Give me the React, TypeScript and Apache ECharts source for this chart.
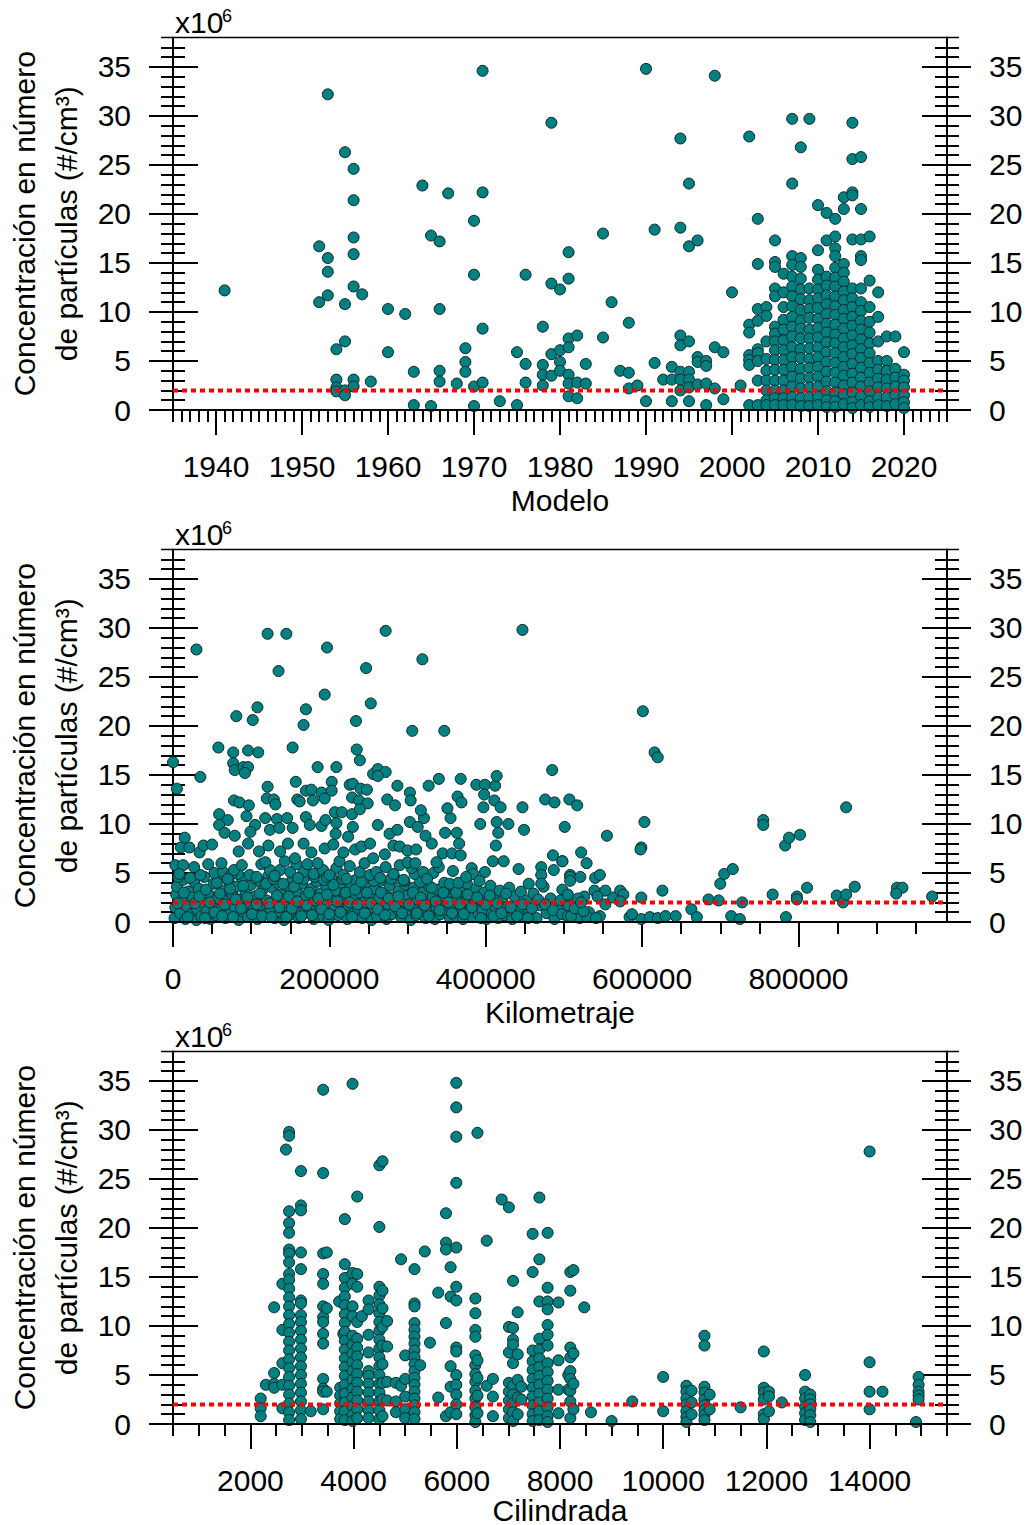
import React, { useEffect, useRef } from 'react';
import * as echarts from 'echarts';

// ---------- axis / tick labels ----------
const concTicks = [0, 5, 10, 15, 20, 25, 30, 35];
const modeloTicks = [1940, 1950, 1960, 1970, 1980, 1990, 2000, 2010, 2020];
const kmTicks = [0, 200000, 400000, 600000, 800000];
const cilTicks = [2000, 4000, 6000, 8000, 10000, 12000, 14000];
const yTitle = 'Concentración en número\nde partículas (#/cm³)';
const xTitles = ['Modelo', 'Kilometraje', 'Cilindrada'];
const threshold = 2;

// ---------- data: Modelo (year -> concentrations, x10^6 #/cm3) ----------
const modeloData: [number, number[]][] = [
  [1941, [12.2]],
  [1952, [16.7, 11.0]],
  [1953, [32.2, 15.5, 14.1, 11.7]],
  [1954, [6.2, 3.1, 2.3, 1.9]],
  [1955, [26.3, 10.8, 7.0, 2.0, 1.5]],
  [1956, [24.6, 21.4, 17.6, 15.9, 12.6, 3.1, 2.4]],
  [1957, [11.8]],
  [1958, [2.9]],
  [1960, [10.3, 5.9]],
  [1962, [9.8]],
  [1963, [3.9, 0.5]],
  [1964, [22.9]],
  [1965, [17.8, 0.4]],
  [1966, [17.2, 10.3, 4.0, 2.9]],
  [1967, [22.1]],
  [1968, [2.7]],
  [1969, [6.3, 4.9, 3.9]],
  [1970, [19.3, 13.8, 2.4, 0.4]],
  [1971, [34.6, 22.2, 8.3, 2.8]],
  [1973, [0.9]],
  [1975, [5.9, 0.5]],
  [1976, [13.8, 4.7, 2.8]],
  [1978, [8.5, 4.6, 3.6, 2.5]],
  [1979, [29.3, 12.9, 5.7, 3.5]],
  [1980, [12.3, 6.1, 4.9, 4.0]],
  [1981, [16.1, 13.4, 7.3, 6.4, 3.6, 2.7, 1.4]],
  [1982, [7.6, 2.8, 1.2]],
  [1983, [4.7, 2.7]],
  [1985, [18.0, 7.4]],
  [1986, [11.0]],
  [1987, [4.0]],
  [1988, [8.9, 3.8, 2.2]],
  [1989, [2.5]],
  [1990, [34.8, 0.9]],
  [1991, [18.4, 4.8]],
  [1992, [3.1]],
  [1993, [4.4, 3.1, 0.9]],
  [1994, [27.7, 18.6, 7.6, 6.6, 3.9, 3.1, 2.0]],
  [1995, [23.1, 16.7, 7.0, 3.9, 3.1, 2.3, 0.9]],
  [1996, [17.3, 5.4, 4.9, 2.6]],
  [1997, [5.0, 4.5, 2.7, 0.5]],
  [1998, [34.1, 6.4, 2.2]],
  [1999, [5.9, 1.1]],
  [2000, [12.0]],
  [2001, [2.5]],
  [2002, [27.9, 8.7, 7.9, 5.6, 5.1, 4.6, 0.5]],
  [2003, [19.5, 14.9, 10.3, 9.1, 6.2, 5.8, 5.0, 3.0, 0.5]],
  [2004, [10.5, 9.6, 7.0, 5.2, 4.0, 3.0, 2.0, 1.0, 0.5]],
  [2005, [17.3, 15.1, 14.6, 12.4, 11.6, 8.5, 7.8, 7.0, 6.1, 5.1, 4.1, 3.0, 2.0, 1.2, 0.5]],
  [2006, [13.9, 12.0, 10.5, 9.2, 8.2, 7.1, 6.1, 5.1, 4.1, 3.0, 2.0, 1.2, 0.5]],
  [2007, [29.7, 23.1, 15.7, 14.8, 13.6, 12.6, 11.6, 10.6, 9.5, 8.5, 7.5, 6.4, 5.4, 4.4, 3.4, 2.4, 1.3, 0.5]],
  [2008, [26.8, 15.5, 14.6, 13.4, 12.3, 11.3, 10.2, 9.1, 8.3, 7.3, 6.2, 5.3, 4.2, 3.2, 2.2, 1.2, 0.4]],
  [2009, [29.7, 12.4, 11.2, 10.3, 9.4, 8.2, 7.3, 6.3, 5.2, 4.3, 3.3, 2.3, 1.3, 0.4]],
  [2010, [20.9, 16.3, 14.3, 13.3, 12.3, 11.4, 10.4, 9.3, 8.4, 7.4, 6.4, 5.4, 4.4, 3.4, 2.4, 1.4, 0.5]],
  [2011, [20.1, 17.3, 13.6, 12.7, 11.7, 10.8, 9.8, 8.8, 7.9, 6.9, 5.9, 4.9, 3.9, 2.9, 1.9, 1.0, 0.3]],
  [2012, [19.5, 17.7, 16.5, 15.7, 14.5, 13.5, 12.6, 11.6, 10.6, 9.7, 8.7, 7.7, 6.8, 5.8, 4.8, 3.8, 2.8, 1.8, 0.9, 0.3]],
  [2013, [21.7, 20.5, 14.9, 14.0, 13.1, 12.1, 11.2, 10.2, 9.3, 8.3, 7.3, 6.4, 5.4, 4.4, 3.5, 2.5, 1.6, 0.6]],
  [2014, [29.3, 25.6, 22.2, 21.9, 17.4, 12.4, 11.4, 10.5, 9.5, 8.6, 7.6, 6.6, 5.7, 4.7, 3.7, 2.8, 1.8, 0.8, 0.2]],
  [2015, [25.8, 20.5, 17.4, 15.7, 15.3, 12.4, 11.0, 10.1, 9.1, 8.2, 7.2, 6.2, 5.3, 4.3, 3.3, 2.4, 1.4, 0.5]],
  [2016, [17.7, 13.2, 10.5, 9.0, 7.9, 6.8, 5.8, 4.8, 3.8, 2.8, 1.9, 0.9, 0.3]],
  [2017, [12.0, 9.5, 7.0, 5.0, 4.1, 3.2, 2.3, 1.3, 0.5]],
  [2018, [7.5, 5.0, 4.0, 3.1, 2.2, 1.3, 0.4]],
  [2019, [7.5, 4.2, 3.3, 2.4, 1.5, 0.6]],
  [2020, [5.9, 3.6, 3.0, 2.3, 1.5, 0.8, 0.2]],
];

// ---------- data: Kilometraje (thousands of km, concentration) ----------
const kmLowBand: [number, number][] = [
  [2, 0.4], [3, 1.5], [4, 2.8], [5, 3.6], [9, 0.9], [11, 2.2], [13, 4.3], [16, 0.3], [18, 1.6], [20, 3.1],
  [23, 0.8], [25, 2.5], [27, 4.1], [30, 0.2], [31, 1.3], [33, 3.4], [36, 0.6], [38, 2.0], [40, 4.6], [43, 1.1],
  [45, 2.9], [48, 0.3], [50, 1.8], [52, 3.9], [55, 0.7], [57, 2.4], [59, 4.8], [62, 1.4], [64, 3.2], [67, 0.4],
  [69, 2.1], [71, 4.2], [74, 0.9], [76, 2.8], [79, 1.5], [81, 3.6], [84, 0.2], [86, 2.3], [88, 4.5], [91, 1.0],
  [93, 3.0], [96, 0.5], [98, 1.9], [100, 3.8], [103, 1.2], [105, 2.6], [108, 0.3], [110, 4.2], [112, 1.7], [115, 3.3],
  [117, 0.8], [120, 2.2], [122, 4.7], [125, 1.3], [127, 3.5], [130, 0.4], [132, 2.0], [134, 4.0], [137, 1.0], [139, 2.8],
  [142, 0.2], [144, 1.6], [146, 3.7], [149, 0.7], [151, 2.4], [153, 4.4], [156, 1.2], [158, 3.1], [161, 0.4], [163, 2.0],
  [165, 3.9], [168, 0.9], [170, 2.7], [172, 4.8], [175, 1.5], [177, 3.4], [180, 0.3], [182, 2.2], [184, 4.1], [187, 1.1],
  [189, 2.9], [192, 0.6], [194, 1.9], [196, 3.7], [199, 0.2], [201, 2.5], [203, 4.5], [206, 1.3], [208, 3.2], [211, 0.7],
  [213, 2.1], [215, 4.0], [218, 1.0], [220, 2.8], [223, 0.3], [225, 1.7], [227, 3.6], [230, 0.8], [232, 2.4], [234, 4.3],
  [237, 1.4], [239, 3.0], [242, 0.4], [244, 2.0], [246, 3.9], [249, 0.9], [251, 2.6], [254, 0.2], [256, 1.5], [258, 3.4],
  [261, 0.6], [263, 2.3], [265, 4.2], [268, 1.1], [270, 2.9], [273, 0.3], [275, 1.8], [277, 3.7], [280, 0.8], [282, 2.5],
  [285, 4.4], [287, 1.3], [289, 3.2], [292, 0.5], [294, 2.1], [297, 3.8], [299, 1.0], [301, 2.7], [304, 0.2], [306, 1.6],
  [308, 3.5], [311, 0.7], [313, 2.3], [316, 4.1], [318, 1.2], [320, 3.0], [323, 0.4], [325, 1.9], [328, 3.6], [330, 0.9],
  [332, 2.6], [335, 0.3], [337, 1.5], [339, 3.3], [342, 0.8], [344, 2.2], [347, 4.0], [349, 1.1], [351, 2.9], [354, 0.4],
  [356, 1.7], [359, 3.5], [361, 0.6], [363, 2.4], [366, 1.3], [368, 3.1], [371, 0.3], [373, 2.0], [376, 3.9], [378, 1.0],
  [381, 2.7], [383, 0.5], [386, 1.6], [388, 3.4], [391, 0.8], [393, 2.3], [396, 1.2], [398, 3.0], [401, 0.3], [403, 1.9],
  [406, 3.7], [408, 0.9], [411, 2.5], [413, 1.4], [416, 0.4], [418, 3.2], [421, 2.1], [424, 0.7], [427, 1.5], [430, 3.5],
  [434, 0.3], [437, 2.6], [441, 1.2], [445, 3.1], [449, 0.5], [452, 2.2], [456, 1.0], [461, 2.9], [465, 0.4], [469, 1.7],
  [474, 3.6], [478, 0.9], [483, 2.4], [488, 0.3], [493, 1.4], [498, 3.3], [503, 0.7], [509, 2.0], [514, 1.2], [520, 0.4],
  [526, 2.6], [532, 1.0], [539, 3.2], [546, 0.6], [553, 1.8],
];
const kmLowBandExtra: [number, number][] = [
  [6, 1.9], [7, 4.6], [14, 3.0], [19, 0.5], [22, 4.5], [28, 1.9], [34, 2.6], [41, 0.4], [42, 3.3], [47, 2.0],
  [53, 1.0], [56, 4.0], [60, 2.9], [63, 0.6], [66, 1.8], [73, 3.4], [77, 0.5], [80, 2.3], [83, 4.9], [87, 1.4],
  [90, 3.7], [95, 2.5], [101, 0.8], [104, 4.5], [107, 1.8], [111, 2.9], [114, 0.6], [119, 3.9], [123, 1.9], [126, 0.5],
  [129, 4.4], [133, 2.7], [136, 1.5], [141, 3.9], [145, 0.5], [148, 2.6], [152, 1.4], [155, 3.6], [159, 2.1], [164, 0.6],
  [167, 4.4], [171, 1.7], [174, 3.0], [178, 0.7], [181, 4.6], [186, 2.4], [190, 1.3], [193, 4.3], [197, 2.8], [200, 0.8],
  [205, 3.8], [210, 2.1], [214, 1.0], [217, 4.4], [221, 3.0], [226, 2.0], [229, 0.5], [233, 3.3], [236, 1.8], [241, 4.1],
  [245, 0.9], [248, 3.0], [253, 1.9], [257, 4.2], [262, 1.3], [266, 3.0], [271, 0.7], [276, 2.4], [279, 4.4], [284, 1.6],
  [288, 2.6], [293, 0.9], [296, 4.2], [302, 1.8], [307, 3.0], [312, 0.9], [317, 2.5], [322, 1.7], [327, 0.6], [331, 3.5],
  [336, 2.1], [341, 1.2], [346, 3.0], [352, 2.0], [357, 0.9], [362, 3.0], [367, 1.8], [372, 0.8], [377, 2.8], [382, 1.5],
  [389, 2.5], [394, 0.4], [400, 1.8], [405, 2.7], [410, 0.6], [415, 1.9], [420, 0.9], [426, 2.9], [432, 1.5], [440, 0.6],
  [447, 1.8], [454, 0.4], [459, 1.4], [467, 2.3], [476, 1.8], [486, 1.2], [496, 2.2], [506, 1.6], [518, 2.4], [530, 0.5],
];
const kmMidBand: [number, number][] = [
  [3, 5.8], [13, 5.8], [35, 4.8], [53, 5.0], [64, 5.1], [75, 4.9], [78, 5.3], [98, 4.8], [113, 5.9], [124, 5.3],
  [137, 5.3], [150, 5.1], [158, 5.9], [167, 5.1], [180, 4.9], [192, 5.3], [197, 4.6], [209, 5.5], [218, 4.8], [226, 5.7],
  [239, 5.1], [252, 4.8], [260, 5.1], [282, 4.9], [295, 4.3], [309, 4.9], [320, 5.1], [333, 5.0], [354, 3.9], [365, 4.0],
  [382, 5.5], [384, 4.9], [399, 5.1], [442, 5.4], [471, 5.6], [471, 4.8], [471, 3.9], [487, 5.3], [508, 4.8], [455, 3.9],
  [8, 4.9], [27, 5.6], [45, 5.9], [62, 6.0], [70, 4.4], [88, 5.8], [107, 4.6], [118, 6.1], [130, 4.7], [143, 6.2],
  [160, 4.5], [172, 5.9], [185, 6.0], [200, 4.8], [213, 6.2], [222, 4.4], [245, 6.0], [265, 4.5], [272, 5.6], [290, 5.8],
  [305, 5.5], [325, 4.4], [340, 5.6], [358, 5.2], [375, 4.6], [392, 4.2],
  [10, 7.6], [21, 7.6], [15, 8.6], [34, 7.1], [39, 7.8], [50, 7.9], [84, 7.2], [96, 8.0], [110, 7.2], [122, 7.8],
  [137, 7.2], [147, 8.0], [156, 6.5], [167, 8.0], [177, 7.1], [194, 7.5], [205, 7.9], [218, 7.1], [233, 7.4], [241, 7.7],
  [252, 8.0], [256, 6.5], [271, 6.9], [282, 7.8], [290, 7.7], [300, 7.3], [311, 7.4], [331, 8.0], [345, 7.0], [357, 7.0],
  [366, 8.0], [368, 6.8], [300, 6.1], [310, 6.0], [337, 6.1], [413, 7.8], [409, 6.2], [423, 6.2], [486, 6.8], [498, 6.2],
  [59, 11.0], [70, 10.4], [59, 9.9], [66, 9.1], [79, 8.8], [94, 10.8], [105, 9.9], [118, 10.6], [99, 9.2], [124, 9.4],
  [133, 10.5], [146, 10.6], [153, 9.6], [136, 9.6], [170, 10.7], [175, 9.9], [190, 9.8], [195, 10.4], [207, 11.2], [216, 11.2],
  [209, 10.1], [229, 11.0], [230, 9.7], [224, 8.7], [208, 9.0], [262, 9.9], [277, 9.0], [287, 9.4], [303, 10.2], [313, 9.7],
  [321, 10.6], [323, 8.8], [348, 9.1], [355, 10.6], [363, 9.1], [393, 10.0], [414, 10.2], [416, 9.1], [429, 10.0], [449, 9.4],
  [78, 12.4], [85, 12.2], [97, 11.9], [121, 13.8], [120, 12.6], [129, 12.5], [131, 12.0], [159, 12.5], [162, 12.3], [170, 13.4],
  [177, 13.5], [179, 12.4], [190, 13.2], [203, 14.3], [203, 13.4], [194, 12.6], [226, 14.0], [230, 14.1], [229, 12.7], [240, 13.6],
  [248, 13.5], [238, 12.4], [249, 12.1], [239, 11.5], [256, 15.1], [287, 13.9], [274, 12.5], [284, 11.9], [303, 13.2], [304, 12.4],
  [317, 11.4], [327, 13.9], [351, 11.6], [364, 12.8], [369, 12.2], [388, 14.0], [399, 14.0], [398, 13.0], [397, 11.7], [412, 13.9],
  [411, 12.4], [419, 11.7], [447, 11.7],
];
const kmHighAndFar: [number, number][] = [
  [0, 16.3], [30, 27.8], [35, 14.8], [5, 13.6], [58, 17.8], [81, 21.0], [77, 17.3], [77, 16.2], [79, 15.5], [90, 15.8],
  [96, 15.8], [92, 15.2], [96, 17.5], [102, 20.6], [108, 21.9], [109, 17.3], [121, 29.4], [145, 29.4], [135, 25.6], [153, 17.8],
  [167, 20.1], [170, 21.7], [157, 14.3], [194, 23.2], [197, 28.0], [185, 15.8], [209, 15.8], [234, 20.5], [235, 17.6], [239, 16.5],
  [247, 25.9], [253, 22.3], [272, 29.7], [262, 15.6], [272, 15.3], [262, 14.9], [306, 19.5], [319, 26.8], [347, 19.5], [340, 14.6],
  [368, 14.6], [414, 14.9], [447, 29.8], [485, 15.5], [476, 12.5], [488, 12.2], [507, 12.5], [501, 9.7],
  [601, 21.5], [616, 17.3], [620, 16.8], [603, 10.2], [599, 7.6], [598, 7.4], [517, 11.9], [555, 8.8], [522, 7.1], [498, 6.2],
  [529, 6.0], [508, 4.6], [508, 4.2], [521, 4.6], [540, 4.5], [546, 4.8], [505, 2.8], [553, 3.2], [543, 2.6], [563, 2.5],
  [572, 3.2], [576, 2.8], [572, 2.1], [599, 2.5], [626, 3.2], [755, 10.4], [755, 9.9], [783, 7.8], [788, 8.6], [802, 8.9],
  [861, 11.7], [700, 3.9], [705, 4.9], [716, 5.4], [685, 2.3], [698, 2.2], [728, 2.0], [767, 2.8], [798, 2.6], [798, 2.3],
  [811, 3.5], [849, 2.7], [857, 2.0], [861, 2.8], [872, 3.6], [926, 3.5], [933, 3.5], [925, 2.9], [971, 2.6], [663, 1.3],
  [670, 0.5], [714, 0.6], [725, 0.3], [784, 0.5], [584, 0.5], [587, 0.8], [599, 0.3], [610, 0.5], [620, 0.4], [630, 0.6],
  [643, 0.6], [498, 0.8], [505, 0.6], [509, 0.6], [514, 1.4], [525, 1.1], [541, 0.4], [522, 2.0],
];

// ---------- data: Cilindrada (cc -> concentrations) ----------
const cilData: [number, number[]][] = [
  [2200, [2.6, 1.6, 0.8]],
  [2300, [4.0]],
  [2460, [11.9, 5.2, 4.1, 3.7]],
  [2620, [14.3, 9.6, 6.2, 4.0, 1.6]],
  [2690, [28.0]],
  [2750, [29.8, 29.4, 21.7, 20.5, 19.5, 17.8, 17.4, 16.5, 15.3, 14.7, 13.8, 12.9, 12.0, 11.1, 10.2, 9.3, 8.4, 7.5, 6.6, 5.7, 4.8, 3.9, 3.0, 2.1, 1.2, 0.4]],
  [2980, [25.8, 22.3, 21.8, 17.5, 15.8, 12.6, 12.3, 11.1, 10.4, 9.5, 8.6, 7.7, 6.8, 5.9, 5.0, 4.1, 3.2, 2.3, 1.4, 0.5]],
  [3170, [1.3]],
  [3410, [34.1, 25.6, 17.4, 15.3, 14.3, 12.0, 10.9, 10.4, 9.2, 8.2, 4.6, 3.6, 3.3, 1.5]],
  [3480, [17.5, 11.8, 3.3]],
  [3720, [12.5]],
  [3740, [3.7, 2.9, 2.1, 1.3, 0.5]],
  [3800, [9.2]],
  [3830, [20.9, 16.3, 14.9, 13.9, 13.0, 12.1, 11.2, 10.3, 9.4, 8.5, 7.6, 6.7, 5.8, 4.9, 4.0, 3.1, 2.2, 1.3, 0.4]],
  [3980, [34.7, 15.4, 14.3, 12.0, 11.0, 9.0, 8.1, 7.2, 6.3, 5.4, 4.5, 3.6, 2.7, 1.8, 0.9, 0.3]],
  [4070, [23.2, 15.3, 14.0, 10.4, 8.7, 7.8, 6.9, 6.0, 5.1, 4.2, 3.3, 2.4, 1.5, 0.6]],
  [4160, [11.0]],
  [4290, [12.6, 11.7, 9.1, 7.3, 5.4, 4.9, 4.1, 3.2, 2.3, 1.4, 0.6]],
  [4500, [26.4, 20.1, 14.0, 13.1, 12.2, 11.3, 10.4, 9.5, 8.6, 7.7, 6.8, 5.9, 5.0, 4.1, 3.2, 2.3, 1.4, 0.5]],
  [4560, [26.8, 13.6, 11.8, 9.9, 8.0, 6.1, 4.2, 2.5, 0.8]],
  [4650, [10.5, 7.9, 4.3, 2.4]],
  [4820, [4.2, 2.3, 1.2]],
  [4920, [16.8, 3.9]],
  [5000, [7.0, 4.6, 2.8, 1.5, 0.6]],
  [5180, [15.8, 12.3, 12.0, 10.3, 9.6, 8.9, 8.2, 7.5, 6.8, 6.1, 5.4, 4.7, 4.0, 3.3, 2.6, 1.9, 1.2, 0.5]],
  [5290, [6.0]],
  [5380, [17.6]],
  [5480, [8.3]],
  [5640, [13.4, 2.7]],
  [5790, [21.5, 18.5, 17.8, 10.3, 0.8]],
  [5880, [16.0, 13.0, 5.9, 3.8, 1.2]],
  [5990, [34.8, 32.3, 29.3, 24.6, 18.0, 14.0, 12.6, 7.8, 7.4, 5.0, 4.0, 3.0, 2.0, 1.0]],
  [6360, [12.8, 11.3, 9.6, 8.9, 7.0, 6.0, 5.1, 4.3, 3.4, 2.6, 1.7, 0.9, 0.2]],
  [6400, [29.7, 6.5, 4.7, 2.9, 1.1]],
  [6580, [18.7, 3.9]],
  [6700, [4.6, 2.8, 0.8]],
  [6870, [22.9]],
  [7010, [22.1, 9.9, 7.3, 4.2, 3.3, 2.4, 1.5, 0.6]],
  [7090, [14.6, 9.8, 8.6, 8.1, 6.2, 3.9, 3.0, 2.1, 1.2, 0.3]],
  [7180, [11.4, 7.1, 4.5, 2.7, 1.0]],
  [7250, [3.8, 2.5]],
  [7470, [19.4, 15.5, 7.5, 6.4, 5.5, 4.6, 3.7, 2.8, 1.9, 1.0, 0.3]],
  [7600, [23.1, 16.8, 12.5, 8.7, 7.6, 6.7, 5.8, 4.9, 4.0, 3.1, 2.2, 1.3, 0.4]],
  [7760, [19.5, 13.9, 12.5, 11.7, 10.1, 9.1, 8.0, 6.2, 5.3, 4.4, 3.5, 2.6, 1.7, 0.8, 0.2]],
  [7970, [12.4, 6.5, 3.5, 1.1]],
  [8160, [5.0, 3.5]],
  [8200, [15.5, 13.6, 7.8, 6.8, 5.4, 4.6, 3.4, 2.3, 0.6]],
  [8260, [15.7, 7.2, 4.1, 1.5]],
  [8470, [11.9]],
  [8600, [1.2]],
  [9000, [0.3]],
  [9400, [2.3]],
  [10000, [4.8, 1.3]],
  [10450, [3.9, 3.3, 2.6, 2.0, 1.3, 0.7, 0.2]],
  [10550, [3.4, 2.2, 1.0]],
  [10800, [9.0, 8.0, 3.8, 3.2, 2.5, 1.9, 1.4, 0.9, 0.4]],
  [10900, [3.0, 1.5]],
  [11500, [1.7]],
  [11950, [7.4, 3.7, 3.2, 2.5, 1.0, 0.5]],
  [12050, [3.3, 2.8, 1.3]],
  [12300, [2.2]],
  [12750, [5.0, 3.3, 2.6, 1.8, 1.1, 0.4]],
  [12850, [3.0, 2.5, 2.0, 1.5, 0.9, 0.2]],
  [14000, [27.8, 6.3, 3.3, 1.5]],
  [14250, [3.3]],
  [14900, [0.2]],
  [14950, [4.8, 4.0, 3.3, 2.9, 2.5]],
];

// ---------- helpers ----------
function range(a: number, b: number, step: number) {
  const r: number[] = [];
  for (let v = a; v <= b + 1e-9; v += step) r.push(Math.round(v * 1000) / 1000);
  return r;
}
const flattenColumns = (cols: [number, number[]][]) => {
  const out: [number, number][] = [];
  cols.forEach(([x, ys]) => ys.forEach((y) => out.push([x, y])));
  return out;
};

const FONT = "'Liberation Sans', Arial, Helvetica, sans-serif";
const FS = 30;
const LS = { color: '#000', width: 2 };
const GRID_LEFT = 173;
const GRID_W = 774;
const GRID_H = 372.5;
const TOPS = [37.5, 549.5, 1051.5];
const NAME_GAPS = [77, 77, 73];

const panels = [
  { min: 1935, max: 2025, major: modeloTicks, minor: range(1935, 2025, 1), data: flattenColumns(modeloData) },
  {
    min: 0, max: 990000, major: kmTicks, minor: range(0, 950000, 50000),
    data: [...kmLowBand, ...kmLowBandExtra, ...kmMidBand, ...kmHighAndFar].map(([k, v]) => [k * 1000, v] as [number, number]),
  },
  { min: 500, max: 15500, major: cilTicks, minor: range(500, 15500, 500), data: flattenColumns(cilData) },
];

function buildOption() {
  const concMinor = range(0, 37, 1);
  const grid: any[] = [];
  const xAxis: any[] = [];
  const yAxis: any[] = [];
  const series: any[] = [];
  const graphic: any[] = [];

  panels.forEach((p, g) => {
    const top = TOPS[g];
    grid.push({ left: GRID_LEFT, top, width: GRID_W, height: GRID_H, containLabel: false, outerBoundsMode: 'none' });

    xAxis.push({
      gridIndex: g, type: 'value', position: 'bottom', min: p.min, max: p.max,
      name: xTitles[g], nameLocation: 'middle', nameGap: NAME_GAPS[g], nameMoveOverlap: false,
      nameTextStyle: { fontSize: FS, fontFamily: FONT, color: '#000', lineHeight: 26 },
      splitLine: { show: false },
      axisLine: { show: true, onZero: false, lineStyle: LS },
      axisTick: { show: true, inside: false, length: 25, customValues: p.major, lineStyle: LS },
      axisLabel: {
        show: true, customValues: p.major, margin: 41, fontSize: FS, fontFamily: FONT, color: '#000',
        formatter: (v: number) => String(v), hideOverlap: false,
      },
    });
    xAxis.push({
      gridIndex: g, type: 'value', position: 'bottom', min: p.min, max: p.max,
      splitLine: { show: false },
      axisLine: { show: false, onZero: false },
      axisTick: { show: true, inside: false, length: 12, customValues: p.minor, lineStyle: LS },
      axisLabel: { show: false },
    });

    (['left', 'right'] as const).forEach((pos) => {
      const base = {
        gridIndex: g, type: 'value', position: pos, min: 0, max: 38,
        splitLine: { show: false }, axisLine: { show: false, onZero: false }, axisLabel: { show: false },
      };
      yAxis.push({
        ...base,
        axisLine: { show: true, onZero: false, lineStyle: LS },
        axisTick: { show: true, inside: false, length: 24, customValues: concTicks, lineStyle: LS },
        axisLabel: { show: true, customValues: concTicks, margin: 42, fontSize: FS, fontFamily: FONT, color: '#000' },
      });
      yAxis.push({ ...base, axisTick: { show: true, inside: true, length: 25, customValues: concTicks, lineStyle: LS } });
      yAxis.push({ ...base, axisTick: { show: true, inside: false, length: 12, customValues: concMinor, lineStyle: LS } });
      yAxis.push({ ...base, axisTick: { show: true, inside: true, length: 12, customValues: concMinor, lineStyle: LS } });
    });

    series.push({
      type: 'scatter', xAxisIndex: g * 2, yAxisIndex: g * 8, data: p.data,
      symbol: 'circle', symbolSize: 11, z: 2, silent: true,
      itemStyle: { color: '#008080', borderColor: '#102828', borderWidth: 1, opacity: 1 },
    });
    series.push({
      type: 'line', xAxisIndex: g * 2, yAxisIndex: g * 8,
      data: [[p.min, threshold], [p.max, threshold]], symbol: 'none', z: 5, silent: true,
      lineStyle: { color: '#ff0000', width: 4, type: [5, 4], cap: 'butt' },
    });

    // frame extensions
    graphic.push({
      type: 'line', silent: true, z: 10,
      shape: { x1: GRID_LEFT - 12, y1: top, x2: GRID_LEFT + GRID_W + 12, y2: top },
      style: { stroke: '#000', lineWidth: 1.5 },
    });
    graphic.push({
      type: 'line', silent: true, z: 10,
      shape: { x1: GRID_LEFT - 24, y1: top + GRID_H, x2: GRID_LEFT + GRID_W + 24, y2: top + GRID_H },
      style: { stroke: '#000', lineWidth: 2 },
    });
    // x10^6 multiplier
    graphic.push({
      type: 'text', silent: true, x: 175, y: top,
      style: { text: 'x10', fontSize: FS, fontFamily: FONT, fill: '#000', align: 'left', verticalAlign: 'bottom' },
    });
    graphic.push({
      type: 'text', silent: true, x: 222, y: top - 31,
      style: { text: '6', fontSize: 18, fontFamily: FONT, fill: '#000', align: 'left', verticalAlign: 'top' },
    });
    // y title
    graphic.push({
      type: 'text', silent: true, x: 45, y: top + GRID_H / 2, rotation: Math.PI / 2,
      style: {
        text: yTitle, fontSize: FS, fontFamily: FONT, fill: '#000', align: 'center', verticalAlign: 'middle', lineHeight: 42,
      },
    });
  });

  return {
    animation: false,
    backgroundColor: '#ffffff',
    textStyle: { fontFamily: FONT },
    grid, xAxis, yAxis, series, graphic,
  };
}

export default function App() {
  const ref = useRef<HTMLDivElement>(null);
  useEffect(() => {
    if (!ref.current) return;
    const chart = echarts.init(ref.current, undefined, { renderer: 'svg' });
    chart.setOption(buildOption() as any);
    return () => chart.dispose();
  }, []);
  return (
    <div
      ref={ref}
      style={{ position: 'absolute', left: 0, top: 0, width: 1027, height: 1525, background: '#fff' }}
    />
  );
}
